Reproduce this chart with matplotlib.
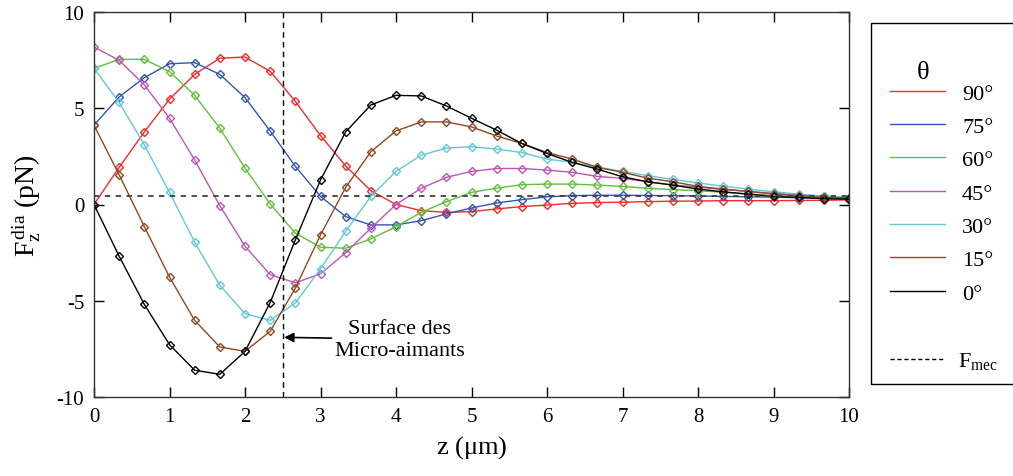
import numpy as np
import matplotlib.pyplot as plt
from matplotlib.lines import Line2D
from matplotlib.patches import Rectangle

plt.rcParams['font.family'] = ['Liberation Serif', 'DejaVu Serif']
plt.rcParams['mathtext.fontset'] = 'custom'
plt.rcParams['mathtext.rm'] = 'Liberation Serif'
plt.rcParams['mathtext.it'] = 'Liberation Serif:italic'
plt.rcParams['axes.unicode_minus'] = False

# z positions of the computed points (every 1/3 um)
z = np.arange(31) / 3.0

angles = ['90°', '75°', '60°', '45°', '30°', '15°', '0°']
colors = ['#f02a2a', '#3454b0', '#62bf3c', '#bf55b5', '#62c8d8', '#8c4a22', '#000000']

f90 = [0.0, 1.93, 3.77, 5.47, 6.76, 7.6, 7.66, 6.92, 5.36, 3.58, 2.0, 0.72, 0.0,
       -0.32, -0.41, -0.37, -0.23, -0.11, -0.03, 0.06, 0.1, 0.12, 0.15, 0.17, 0.18,
       0.2, 0.2, 0.2, 0.21, 0.22, 0.24]
f75 = [4.12, 5.59, 6.59, 7.31, 7.37, 6.76, 5.55, 3.82, 1.98, 0.42, -0.63, -1.06, -1.06,
       -0.84, -0.49, -0.18, 0.08, 0.25, 0.4, 0.46, 0.48, 0.48, 0.47, 0.46, 0.44,
       0.42, 0.4, 0.38, 0.35, 0.32, 0.3]
f60 = [7.07, 7.54, 7.54, 6.9, 5.67, 3.96, 1.89, 0.03, -1.49, -2.22, -2.27, -1.79, -1.15,
       -0.41, 0.15, 0.63, 0.85, 1.03, 1.06, 1.06, 1.01, 0.94, 0.84, 0.77, 0.72,
       0.63, 0.54, 0.46, 0.4, 0.35, 0.3]
f45 = [8.18, 7.49, 6.21, 4.48, 2.31, -0.06, -2.17, -3.64, -4.07, -3.6, -2.51, -1.23, 0.0,
       0.84, 1.41, 1.72, 1.87, 1.87, 1.79, 1.67, 1.46, 1.36, 1.18, 1.01, 0.9,
       0.78, 0.68, 0.58, 0.5, 0.42, 0.35]
f30 = [7.07, 5.3, 3.1, 0.63, -1.96, -4.2, -5.67, -6.02, -5.12, -3.34, -1.39, 0.42, 1.72,
       2.56, 2.93, 3.0, 2.88, 2.7, 2.36, 2.19, 1.95, 1.72, 1.5, 1.3, 1.12,
       0.95, 0.8, 0.66, 0.54, 0.44, 0.36]
f15 = [4.12, 1.54, -1.15, -3.77, -6.02, -7.4, -7.63, -6.59, -4.34, -1.58, 0.89, 2.74, 3.82,
       4.29, 4.29, 4.03, 3.56, 3.17, 2.7, 2.36, 1.93, 1.67, 1.37, 1.18, 0.94,
       0.8, 0.68, 0.54, 0.46, 0.37, 0.34]
f0 = [0.0, -2.69, -5.19, -7.28, -8.61, -8.82, -7.63, -5.1, -1.84, 1.27, 3.77, 5.17, 5.67,
      5.64, 5.12, 4.48, 3.86, 3.17, 2.65, 2.19, 1.84, 1.44, 1.18, 1.01, 0.8,
      0.66, 0.54, 0.42, 0.37, 0.3, 0.28]
forces = [f90, f75, f60, f45, f30, f15, f0]

f_mec = 0.45
z_surface = 2.5

W, H = 1013, 477
fig = plt.figure(figsize=(W / 100, H / 100), dpi=100)
ax = fig.add_axes([94 / W, 1 - 398 / H, 755 / W, 385 / H])

for f, c in zip(forces, colors):
    ax.plot(z, f, color=c, lw=1.0, marker='D', ms=4.5, mfc='none', mec=c, mew=1.0)

ax.axhline(f_mec, color='#404040', lw=1.3, ls=(0, (3, 3)))
ax.axvline(z_surface, color='black', lw=1.0, ls=(0, (4, 3)))

ax.annotate('Surface des\nMicro-aimants', xy=(z_surface, -6.9), xytext=(4.05, -7.0),
            ha='center', va='center', fontsize=16, linespacing=1.25,
            arrowprops=dict(arrowstyle='-|>', color='black', lw=1.2,
                            shrinkA=55, shrinkB=1, mutation_scale=14))

ax.set_xlim(0, 10)
ax.set_ylim(-10, 10)
ax.set_xticks(range(11))
ax.set_yticks([-10, -5, 0, 5, 10])
ax.tick_params(direction='in', length=7, width=1, labelsize=15,
               top=True, right=True, pad=7)
for s in ax.spines.values():
    s.set_linewidth(1.0)
    s.set_color('#333333')

ax.set_xlabel(r'z ($\mathrm{\mu}$m)', fontsize=19, labelpad=5)
ax.set_ylabel(r'F$_{\mathrm{z}}^{\,\mathrm{dia}}$ (pN)', fontsize=20, labelpad=10)

# legend frame runs past the right edge of the figure
fig.patches.append(Rectangle((871 / W, 1 - 385 / H), 160 / W, 361 / H,
                             transform=fig.transFigure, fill=False,
                             edgecolor='black', lw=1.0))
fig.text(923 / W, 1 - 73 / H, 'θ', fontsize=19, ha='center', va='center')

handles = [Line2D([], [], color=c, lw=1.0) for c in colors]
fig.legend(handles, angles, loc='upper left',
           bbox_to_anchor=(890 / W, 1 - 84 / H), fontsize=16, frameon=False,
           handlelength=2.47, handletextpad=0.77, labelspacing=0.575,
           borderpad=0, borderaxespad=0)

mec_handle = Line2D([], [], color='black', lw=1.0, ls=(0, (3, 2)))
fig.legend([mec_handle], [r'F$_{\mathrm{mec}}$'], loc='center left',
           bbox_to_anchor=(890 / W, 1 - 362 / H), fontsize=16, frameon=False,
           handlelength=2.47, handletextpad=0.6, borderpad=0, borderaxespad=0)

fig.savefig('out.png', dpi=100)
